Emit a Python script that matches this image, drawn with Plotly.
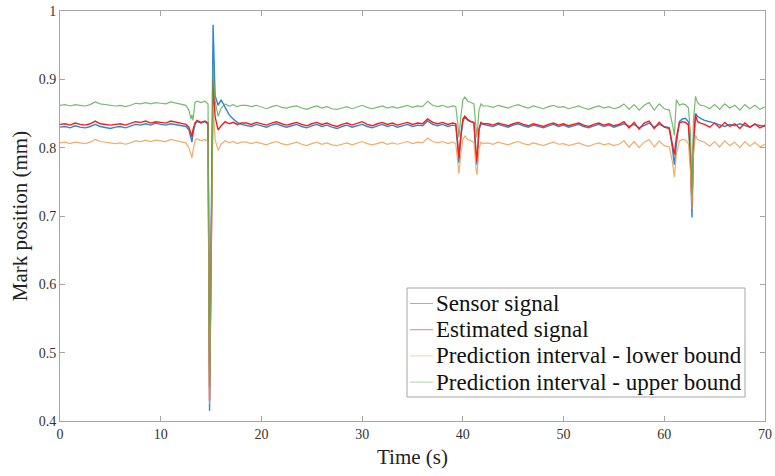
import plotly.graph_objects as go

# Time stamps (s)
time_s = [
    0.0, 0.5, 1.0, 1.5, 2.0, 2.5, 3.0, 3.5, 4.0, 4.5, 5.0, 5.5, 6.0, 6.5, 7.0, 7.5, 8.0, 8.5, 9.0, 9.5,
    10.0, 10.5, 11.0, 11.5, 12.0, 12.5,
    12.8, 13.0, 13.1, 13.2, 13.4, 13.6, 14.0, 14.4, 14.7, 14.85, 15.0, 15.2, 15.4, 15.7, 16.0, 16.4,
    16.8, 17.2, 17.6, 18.0,
    18.5, 19.0, 19.5, 20.0, 20.5, 21.0, 21.5, 22.0, 22.5, 23.0, 23.5, 24.0, 24.5, 25.0, 25.5, 26.0,
    26.5, 27.0, 27.5, 28.0, 28.5, 29.0, 29.5, 30.0, 30.5, 31.0, 31.5, 32.0, 32.5, 33.0, 33.5, 34.0,
    34.5, 35.0, 35.5, 36.0, 36.5, 37.0, 37.5, 38.0, 38.5, 39.0,
    39.3, 39.5, 39.6, 39.8, 40.0, 40.2, 40.5, 40.8, 41.1, 41.3, 41.4, 41.6, 41.8, 42.0,
    42.5, 43.0, 43.5, 44.0, 44.5, 45.0, 45.5, 46.0, 46.5, 47.0, 47.5, 48.0, 48.5, 49.0, 49.5, 50.0,
    50.5, 51.0, 51.5, 52.0, 52.5, 53.0, 53.5, 54.0, 54.5, 55.0, 55.5, 56.0, 56.5, 57.0, 57.5, 58.0,
    58.5, 59.0, 59.5, 60.0, 60.5,
    60.8, 61.0, 61.2, 61.5, 61.8, 62.1, 62.4, 62.6, 62.75, 62.9, 63.1, 63.3, 63.6, 64.0,
    64.5, 65.0, 65.5, 66.0, 66.5, 67.0, 67.5, 68.0, 68.5, 69.0, 69.5, 70.0,
]

sensor_signal = [
    0.830, 0.831, 0.829, 0.832, 0.830, 0.829, 0.831, 0.834, 0.831, 0.830, 0.828, 0.830, 0.831, 0.829,
    0.832, 0.834, 0.833, 0.835, 0.833, 0.836, 0.834, 0.833, 0.835, 0.834, 0.832, 0.831,
    0.826, 0.812, 0.808, 0.820, 0.834, 0.838, 0.836, 0.838, 0.834, 0.415, 0.640, 0.980, 0.876, 0.862,
    0.870, 0.858, 0.848, 0.842, 0.837, 0.834,
    0.833, 0.831, 0.834, 0.832, 0.830, 0.833, 0.835, 0.832, 0.830, 0.832, 0.834, 0.831, 0.829, 0.832,
    0.834, 0.831, 0.833, 0.830, 0.828, 0.831, 0.833, 0.830, 0.832, 0.834, 0.831, 0.829, 0.832, 0.834,
    0.831, 0.833, 0.830, 0.832, 0.834, 0.831, 0.833, 0.832, 0.839, 0.834, 0.832, 0.834, 0.831, 0.833,
    0.832, 0.800, 0.778, 0.815, 0.838, 0.845, 0.840, 0.838, 0.836, 0.790, 0.775, 0.825, 0.836, 0.834,
    0.833, 0.831, 0.834, 0.832, 0.830, 0.833, 0.835, 0.832, 0.830, 0.833, 0.831, 0.829, 0.832, 0.834,
    0.831, 0.833, 0.830, 0.832, 0.834, 0.831, 0.829, 0.832, 0.834, 0.831, 0.833, 0.830, 0.832, 0.835,
    0.831, 0.834, 0.829, 0.833, 0.836, 0.830, 0.834, 0.831, 0.829,
    0.800, 0.775, 0.805, 0.838, 0.842, 0.843, 0.838, 0.780, 0.698, 0.800, 0.850, 0.846, 0.843, 0.840,
    0.838, 0.836, 0.834, 0.831, 0.834, 0.832, 0.835, 0.833, 0.830, 0.834, 0.832, 0.831,
]

estimated_signal = [
    0.834, 0.835, 0.833, 0.836, 0.834, 0.833, 0.835, 0.839, 0.835, 0.834, 0.833, 0.834, 0.835, 0.833,
    0.836, 0.838, 0.837, 0.839, 0.836, 0.838, 0.837, 0.836, 0.839, 0.837, 0.836, 0.834,
    0.830, 0.818, 0.816, 0.826, 0.836, 0.840, 0.837, 0.839, 0.836, 0.430, 0.600, 0.900, 0.845, 0.826,
    0.832, 0.838, 0.835, 0.837, 0.834, 0.836,
    0.836, 0.834, 0.837, 0.835, 0.833, 0.836, 0.838, 0.835, 0.833, 0.835, 0.837, 0.834, 0.832, 0.835,
    0.837, 0.834, 0.836, 0.833, 0.831, 0.834, 0.836, 0.833, 0.835, 0.838, 0.834, 0.832, 0.835, 0.837,
    0.834, 0.836, 0.833, 0.835, 0.837, 0.834, 0.836, 0.835, 0.842, 0.837, 0.835, 0.837, 0.834, 0.836,
    0.835, 0.805, 0.785, 0.818, 0.842, 0.846, 0.841, 0.838, 0.837, 0.795, 0.780, 0.828, 0.837, 0.835,
    0.835, 0.833, 0.836, 0.834, 0.832, 0.835, 0.837, 0.834, 0.832, 0.835, 0.833, 0.831, 0.834, 0.836,
    0.833, 0.835, 0.832, 0.834, 0.836, 0.833, 0.831, 0.834, 0.836, 0.833, 0.835, 0.832, 0.834, 0.838,
    0.829, 0.837, 0.827, 0.836, 0.839, 0.828, 0.837, 0.830, 0.828,
    0.805, 0.790, 0.815, 0.836, 0.838, 0.837, 0.833, 0.790, 0.715, 0.810, 0.848, 0.838, 0.836, 0.834,
    0.830, 0.836, 0.829, 0.837, 0.831, 0.835, 0.828, 0.836, 0.830, 0.835, 0.829, 0.833,
]

lower_bound = [
    0.807, 0.808, 0.806, 0.808, 0.807, 0.806, 0.808, 0.812, 0.809, 0.808, 0.806, 0.806, 0.807, 0.805,
    0.807, 0.810, 0.809, 0.811, 0.809, 0.811, 0.810, 0.809, 0.812, 0.810, 0.809, 0.807,
    0.800, 0.788, 0.785, 0.795, 0.810, 0.813, 0.810, 0.812, 0.809, 0.425, 0.600, 0.860, 0.812, 0.796,
    0.805, 0.810, 0.807, 0.809, 0.806, 0.808,
    0.808, 0.806, 0.808, 0.806, 0.804, 0.807, 0.809, 0.806, 0.804, 0.806, 0.808, 0.805, 0.803, 0.806,
    0.808, 0.805, 0.807, 0.804, 0.803, 0.805, 0.807, 0.804, 0.806, 0.809, 0.806, 0.804, 0.806, 0.808,
    0.805, 0.807, 0.805, 0.807, 0.809, 0.806, 0.808, 0.807, 0.814, 0.809, 0.807, 0.809, 0.806, 0.808,
    0.806, 0.778, 0.762, 0.790, 0.812, 0.817, 0.812, 0.810, 0.808, 0.770, 0.760, 0.798, 0.808, 0.806,
    0.807, 0.805, 0.808, 0.806, 0.804, 0.807, 0.809, 0.806, 0.804, 0.807, 0.805, 0.803, 0.806, 0.808,
    0.805, 0.806, 0.803, 0.805, 0.807, 0.804, 0.802, 0.805, 0.807, 0.804, 0.806, 0.803, 0.805, 0.810,
    0.801, 0.809, 0.800, 0.808, 0.812, 0.801, 0.810, 0.803, 0.801,
    0.780, 0.757, 0.790, 0.810, 0.812, 0.811, 0.806, 0.765, 0.710, 0.790, 0.818, 0.812, 0.810, 0.808,
    0.802, 0.809, 0.801, 0.810, 0.803, 0.808, 0.800, 0.809, 0.802, 0.808, 0.801, 0.805,
]

upper_bound = [
    0.862, 0.863, 0.861, 0.863, 0.862, 0.861, 0.863, 0.867, 0.864, 0.863, 0.862, 0.861, 0.862, 0.860,
    0.862, 0.865, 0.864, 0.866, 0.864, 0.866, 0.865, 0.864, 0.867, 0.865, 0.864, 0.862,
    0.855, 0.842, 0.848, 0.840, 0.866, 0.868, 0.866, 0.868, 0.864, 0.450, 0.620, 0.920, 0.868, 0.846,
    0.858, 0.864, 0.861, 0.863, 0.860, 0.862,
    0.862, 0.860, 0.862, 0.859, 0.857, 0.860, 0.862, 0.859, 0.858, 0.860, 0.861, 0.858, 0.856, 0.859,
    0.861, 0.858, 0.860, 0.857, 0.856, 0.858, 0.860, 0.857, 0.859, 0.862, 0.859, 0.857, 0.859, 0.861,
    0.858, 0.860, 0.858, 0.860, 0.862, 0.859, 0.861, 0.860, 0.868, 0.862, 0.860, 0.862, 0.859, 0.861,
    0.860, 0.835, 0.815, 0.845, 0.870, 0.874, 0.868, 0.866, 0.864, 0.830, 0.815, 0.855, 0.864, 0.861,
    0.861, 0.859, 0.862, 0.860, 0.858, 0.861, 0.863, 0.860, 0.858, 0.861, 0.859, 0.857, 0.860, 0.862,
    0.859, 0.860, 0.857, 0.859, 0.861, 0.858, 0.856, 0.859, 0.861, 0.858, 0.860, 0.857, 0.859, 0.864,
    0.856, 0.863, 0.855, 0.862, 0.866, 0.855, 0.864, 0.857, 0.855,
    0.835, 0.818, 0.870, 0.862, 0.864, 0.863, 0.858, 0.820, 0.730, 0.840, 0.875, 0.866, 0.862, 0.861,
    0.857, 0.863, 0.856, 0.864, 0.858, 0.862, 0.855, 0.863, 0.857, 0.862, 0.856, 0.860,
]

series_names = ["Sensor signal", "Estimated signal",
                "Prediction interval - lower bound", "Prediction interval - upper bound"]
x_ticks = [0, 10, 20, 30, 40, 50, 60, 70]
y_ticks = [0.4, 0.5, 0.6, 0.7, 0.8, 0.9, 1.0]
y_tick_text = ["0.4", "0.5", "0.6", "0.7", "0.8", "0.9", "1"]

FONT = "Liberation Serif, Times New Roman, serif"
AX = "#a6a6a6"

W, H = 775, 476
ML, MR, MT, MB = 60, 10, 11, 55
PW, PH = W - ML - MR, H - MT - MB


def px_x(p):  # page pixel -> paper x
    return (p - ML) / PW


def px_y(p):  # page pixel -> paper y
    return (H - MB - p) / PH


fig = go.Figure()
styles = [
    ("#2f87cc", 1.4),
    ("#ff1a1a", 1.4),
    ("rgba(236,160,80,0.85)", 1.2),
    ("rgba(95,175,85,0.85)", 1.2),
]
legend_line_colors = ["rgba(47,135,204,0.6)", "rgba(255,26,26,0.6)",
                      "rgba(236,160,80,0.5)", "rgba(95,175,85,0.5)"]
all_series = [sensor_signal, estimated_signal, lower_bound, upper_bound]
for vals, (col, w), name in zip(all_series, styles, series_names):
    fig.add_trace(go.Scatter(x=time_s, y=vals, mode="lines", name=name,
                             line=dict(color=col, width=w), showlegend=False))

# Legend box drawn in MATLAB style (tight rows, short line samples)
shapes = [dict(type="rect", xref="paper", yref="paper",
               x0=px_x(407), x1=px_x(745), y0=px_y(397), y1=px_y(288),
               line=dict(color=AX, width=1), fillcolor="white", layer="above")]
annotations = []
row0, pitch = 303.5, 26.2
for i, (lc, name) in enumerate(zip(legend_line_colors, series_names)):
    yy = px_y(row0 + i * pitch)
    shapes.append(dict(type="line", xref="paper", yref="paper",
                       x0=px_x(410), x1=px_x(433), y0=yy, y1=yy,
                       line=dict(color=lc, width=1), layer="above"))
    annotations.append(dict(xref="paper", yref="paper", x=px_x(434), y=yy,
                            xanchor="left", yanchor="middle", text=name, showarrow=False,
                            font=dict(family=FONT, size=23, color="#111111")))

fig.update_layout(
    width=W, height=H,
    margin=dict(l=ML, r=MR, t=MT, b=MB),
    paper_bgcolor="white", plot_bgcolor="white",
    font=dict(family=FONT, color="#333333"),
    showlegend=False,
    shapes=shapes, annotations=annotations,
)
fig.update_xaxes(range=[0, 70], tickvals=x_ticks, ticks="inside", ticklen=5,
                 tickcolor=AX, showline=True, linecolor=AX, linewidth=1, mirror="ticks",
                 showgrid=False, zeroline=False, automargin=False, ticklabeloverflow="allow",
                 tickfont=dict(family=FONT, size=14, color="#333333"),
                 title=dict(text="Time (s)", font=dict(family=FONT, size=21, color="#222222"),
                            standoff=8))
fig.update_yaxes(range=[0.4, 1.0], tickvals=y_ticks, ticktext=y_tick_text,
                 ticks="inside", ticklen=5,
                 tickcolor=AX, showline=True, linecolor=AX, linewidth=1, mirror="ticks",
                 showgrid=False, zeroline=False, automargin=False, ticklabeloverflow="allow",
                 tickfont=dict(family=FONT, size=14, color="#333333"),
                 title=dict(text="Mark position (mm)", font=dict(family=FONT, size=21, color="#222222"),
                            standoff=5))

fig.write_html("out.html", config={"displayModeBar": False},
               post_script="document.body.style.margin='0';document.body.style.overflow='hidden';")
